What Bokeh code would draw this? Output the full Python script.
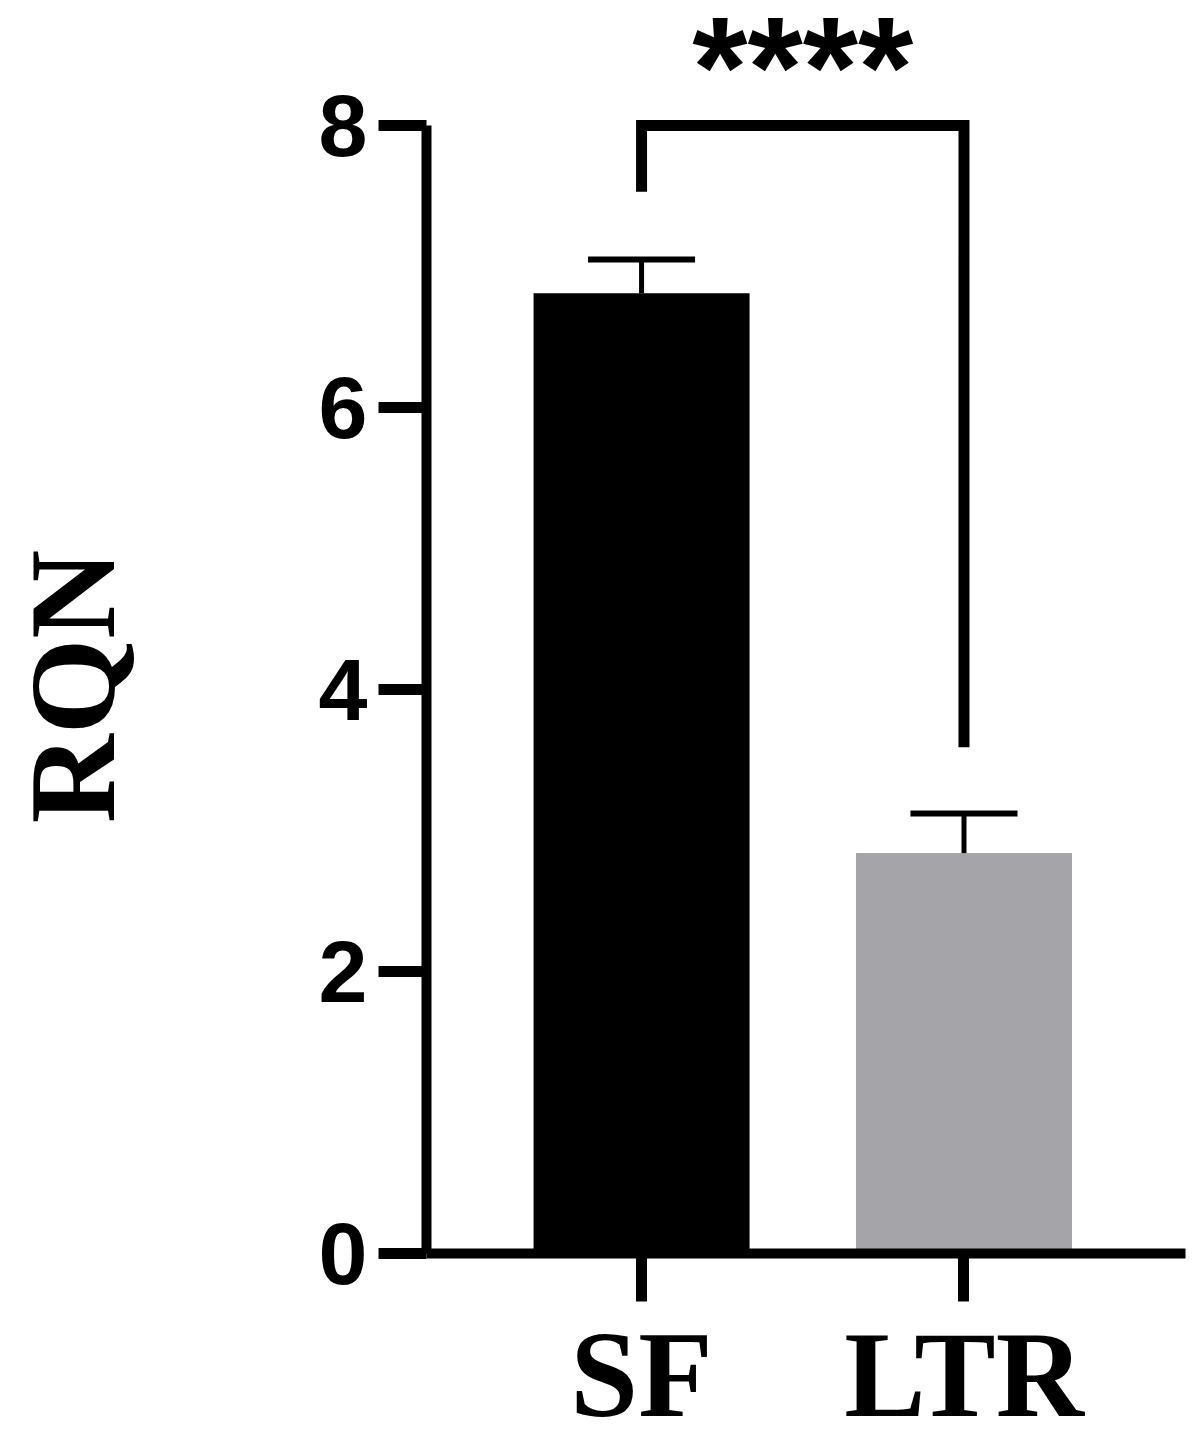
from bokeh.plotting import figure
from bokeh.layouts import column
from bokeh.models import Range1d, FixedTicker, ColumnDataSource
from bokeh.core.properties import value
from bokeh.embed import file_html
from bokeh.resources import INLINE

# values
groups = ["SF", "LTR"]
means = [6.81, 2.84]
sems = [0.24, 0.28]
colors = ["#000000", "#a4a4a9"]
y_ticks = [0, 2, 4, 6, 8]
y_title = "RQN"

# significance bracket: left leg end, bar height, right leg end
bracket_left = 7.53
bracket_top = 8.0
bracket_right = 3.59
stars = "****"

xs = [i + 1 for i in range(len(groups))]
uppers = [m + s for m, s in zip(means, sems)]
cap = 0.166

src = ColumnDataSource(dict(x=xs, top=means, upper=uppers, color=colors,
                            cl=[x - cap for x in xs], cr=[x + cap for x in xs]))

x_range = Range1d(0.333, 2.687)

# strip above the main plot that carries the stars
top = figure(width=1203, height=75, x_range=x_range, y_range=Range1d(0, 75),
             output_backend="svg", toolbar_location=None,
             x_axis_location=None, y_axis_location=None,
             min_border_left=426, min_border_right=18,
             min_border_top=0, min_border_bottom=0)
top.grid.visible = False
top.outline_line_color = None
top.text(x=[sum(xs) / len(xs)], y=[9.5], text=[stars],
         text_font=value("Liberation Sans"), text_font_style="bold",
         text_font_size="142px", text_align="center", text_baseline="alphabetic",
         text_color="black")

p = figure(width=1203, height=1377, x_range=x_range, y_range=Range1d(0, 8.043),
           output_backend="svg", toolbar_location=None,
           min_border_left=426, min_border_right=18,
           min_border_top=44, min_border_bottom=199)

p.vbar(x="x", top="top", bottom=0, width=0.67, color="color", line_color=None, source=src)

# error bars (mean + SEM only)
p.segment(x0="x", y0="top", x1="x", y1="upper", line_width=5, line_color="black", source=src)
p.segment(x0="cl", y0="upper", x1="cr", y1="upper", line_width=6, line_color="black", source=src)

# bracket
p.line(x=[xs[0], xs[0], xs[1], xs[1]],
       y=[bracket_left, bracket_top, bracket_top, bracket_right],
       line_width=11, line_color="black", line_join="miter", line_cap="butt")

p.xgrid.visible = False
p.ygrid.visible = False
p.outline_line_color = None

for ax in (p.xaxis, p.yaxis):
    ax.axis_line_width = 10
    ax.axis_line_color = "black"
    ax.major_tick_line_width = 11
    ax.major_tick_line_color = "black"
    ax.major_tick_out = 48
    ax.major_tick_in = 0
    ax.minor_tick_out = 0
    ax.minor_tick_in = 0
    ax.major_label_text_color = "black"

p.xaxis.ticker = FixedTicker(ticks=xs)
p.xaxis.major_label_overrides = dict(zip(xs, groups))
p.xaxis.major_label_text_font = "Liberation Serif"
p.xaxis.major_label_text_font_style = "bold"
p.xaxis.major_label_text_font_size = "122px"
p.xaxis.major_label_standoff = 5

p.yaxis.ticker = FixedTicker(ticks=y_ticks)
p.yaxis.bounds = (0, 8)
p.yaxis.major_label_text_font = "Liberation Sans"
p.yaxis.major_label_text_font_style = "bold"
p.yaxis.major_label_text_font_size = "88px"
p.yaxis.major_label_standoff = 11
p.yaxis.axis_label = y_title
p.yaxis.axis_label_text_font = "Liberation Serif"
p.yaxis.axis_label_text_font_style = "bold"
p.yaxis.axis_label_text_font_size = "123px"
p.yaxis.axis_label_text_color = "black"
p.yaxis.axis_label_standoff = 175

open("out.html", "w").write(file_html(column(top, p), INLINE))
